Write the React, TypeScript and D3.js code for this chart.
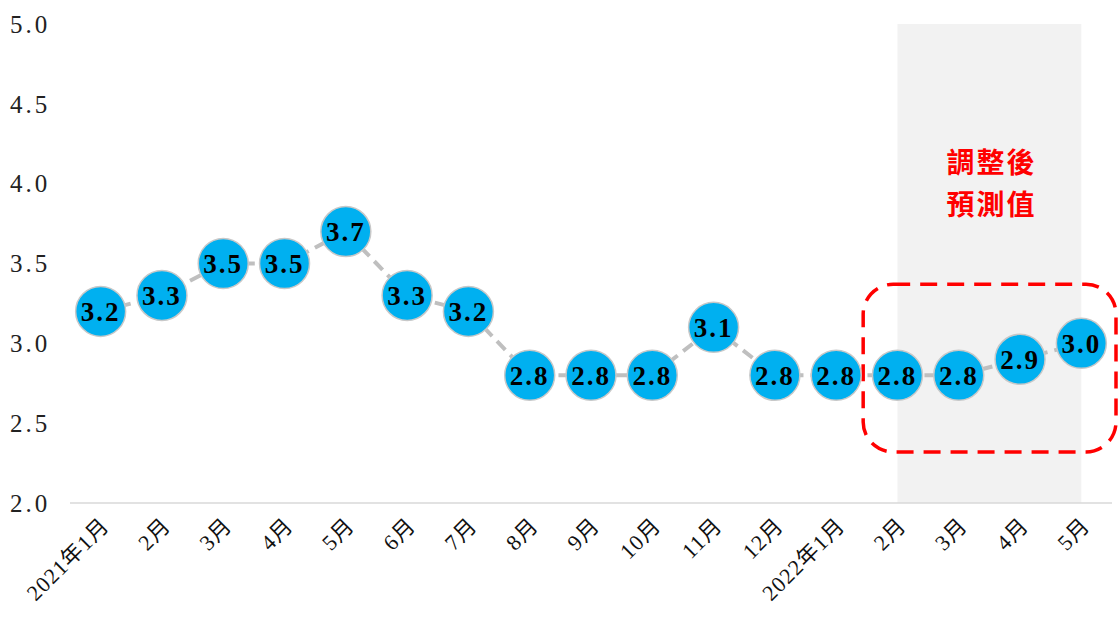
import React, { useRef, useEffect } from 'react';
import * as d3 from 'd3';

const months = ['2021年1月', '2月', '3月', '4月', '5月', '6月', '7月', '8月', '9月', '10月', '11月', '12月', '2022年1月', '2月', '3月', '4月', '5月'];
const values = [3.2, 3.3, 3.5, 3.5, 3.7, 3.3, 3.2, 2.8, 2.8, 2.8, 3.1, 2.8, 2.8, 2.8, 2.8, 2.9, 3.0];
const yTicks = [2.0, 2.5, 3.0, 3.5, 4.0, 4.5, 5.0];
const shadeFrom = 13; // 2022年2月
const shadeTo = 16;   // 2022年5月
const noteLines = ['調整後', '預測值'];

const width = 1118;
const height = 619;
const serif = '"Liberation Serif", "DejaVu Serif", "Noto Sans CJK TC", serif';

const App: React.FC = () => {
  const svgRef = useRef<SVGSVGElement>(null);

  useEffect(() => {
    if (!svgRef.current) return;
    const svg = d3.select(svgRef.current);
    svg.selectAll('*').remove();

    const margin = { top: 24, right: 6, bottom: 116, left: 70 };

    const x = d3.scaleBand<number>()
      .domain(d3.range(months.length))
      .range([margin.left, width - margin.right]);
    const cx = (i: number) => (x(i) as number) + x.bandwidth() / 2;

    const y = d3.scaleLinear()
      .domain([2, 5])
      .range([height - margin.bottom, margin.top]);

    // shaded forecast band
    svg.append('rect')
      .attr('x', cx(shadeFrom))
      .attr('y', y(5))
      .attr('width', cx(shadeTo) - cx(shadeFrom))
      .attr('height', y(2) - y(5))
      .attr('fill', '#f2f2f2');

    // baseline
    svg.append('line')
      .attr('x1', margin.left)
      .attr('x2', width - margin.right)
      .attr('y1', y(2))
      .attr('y2', y(2))
      .attr('stroke', '#d9d9d9')
      .attr('stroke-width', 1.5);

    // y tick labels
    svg.append('g')
      .selectAll('text')
      .data(yTicks)
      .enter()
      .append('text')
      .attr('x', 10)
      .attr('y', d => y(d))
      .attr('dy', '0.35em')
      .attr('font-family', serif)
      .attr('font-size', 25)
      .attr('letter-spacing', 3)
      .attr('fill', '#222')
      .text(d => d.toFixed(1));

    // x tick labels
    svg.append('g')
      .selectAll('text')
      .data(months)
      .enter()
      .append('text')
      .attr('transform', (_, i) => `translate(${cx(i) + 10},${y(2) + 24}) rotate(-45)`)
      .attr('text-anchor', 'end')
      .attr('font-family', serif)
      .attr('font-size', 22)
      .attr('letter-spacing', 1)
      .attr('fill', '#111')
      .text(d => d);

    // connecting dashed line
    const line = d3.line<number>()
      .x((_, i) => cx(i))
      .y(d => y(d));
    svg.append('path')
      .datum(values)
      .attr('d', line)
      .attr('fill', 'none')
      .attr('stroke', '#bfbfbf')
      .attr('stroke-width', 4)
      .attr('stroke-dasharray', '12,7');

    // dashed red rounded box
    svg.append('rect')
      .attr('x', cx(12) + 27)
      .attr('y', y(3.37))
      .attr('width', width - 2 - (cx(12) + 27))
      .attr('height', y(2.32) - y(3.37))
      .attr('rx', 30)
      .attr('fill', 'none')
      .attr('stroke', '#ff0000')
      .attr('stroke-width', 3.5)
      .attr('stroke-dasharray', '17,10');

    // markers
    const pts = svg.append('g')
      .selectAll('g')
      .data(values)
      .enter()
      .append('g')
      .attr('transform', (d, i) => `translate(${cx(i)},${y(d)})`);
    pts.append('circle')
      .attr('r', 25)
      .attr('fill', '#00b0f0')
      .attr('stroke', '#c8c8c8')
      .attr('stroke-width', 1.5);
    pts.append('text')
      .attr('text-anchor', 'middle')
      .attr('dy', '0.36em')
      .attr('font-family', serif)
      .attr('font-weight', 'bold')
      .attr('font-size', 27)
      .attr('letter-spacing', 2)
      .attr('fill', '#000')
      .text(d => d.toFixed(1));

    // annotation
    svg.append('g')
      .selectAll('text')
      .data(noteLines)
      .enter()
      .append('text')
      .attr('x', (cx(shadeFrom) + cx(shadeTo)) / 2 + 2)
      .attr('y', (_, i) => 163 + i * 42)
      .attr('dy', '0.35em')
      .attr('text-anchor', 'middle')
      .attr('font-family', '"Noto Sans CJK TC", sans-serif')
      .attr('font-weight', 'bold')
      .attr('font-size', 28)
      .attr('letter-spacing', 2)
      .attr('fill', '#ff0000')
      .text(d => d);
  }, []);

  return (
    <svg
      ref={svgRef}
      width={width}
      height={height}
      style={{ position: 'absolute', left: 0, top: 0, background: '#fff' }}
    />
  );
};

export default App;
